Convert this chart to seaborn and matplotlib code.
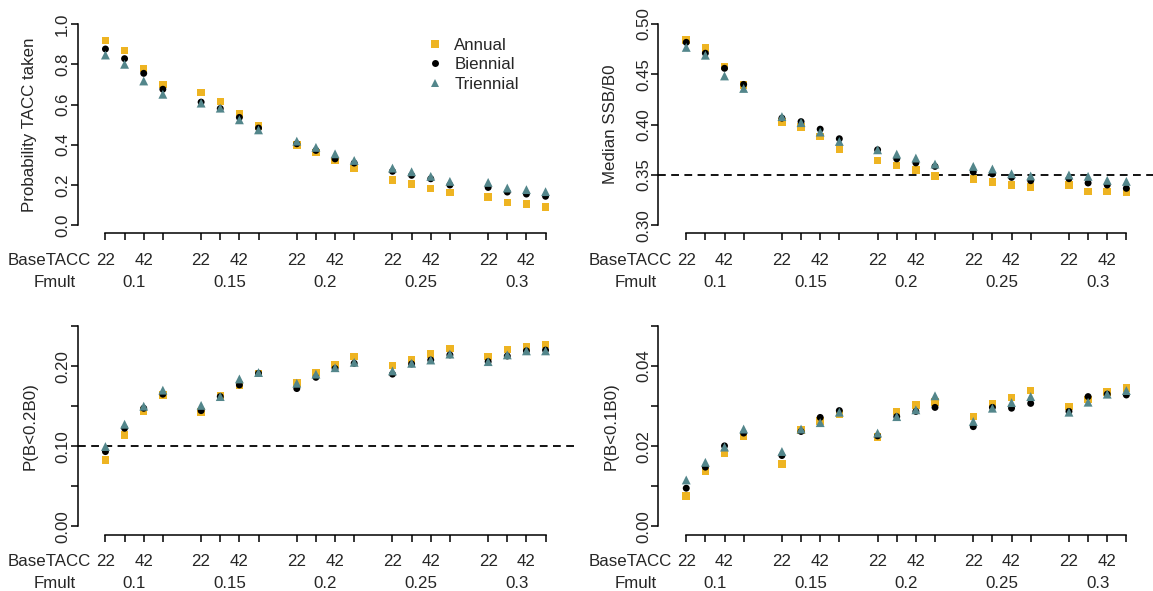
import numpy as np
import pandas as pd
import matplotlib
matplotlib.use("Agg")
import matplotlib.pyplot as plt
from matplotlib.lines import Line2D
import seaborn as sns

# ---------------- data ----------------
schemes = ["Annual", "Biennial", "Triennial"]
fmult = ["0.1", "0.15", "0.2", "0.25", "0.3"]
base_tacc = ["22", "32", "42", "52"]
base_tacc_shown = ["22", "", "42", ""]

ptacc_annual = [0.917, 0.868, 0.780, 0.700, 0.660, 0.615, 0.554, 0.494, 0.400, 0.362,
                0.322, 0.283, 0.225, 0.205, 0.183, 0.164, 0.140, 0.114, 0.106, 0.091]
ptacc_biennial = [0.876, 0.828, 0.755, 0.676, 0.612, 0.580, 0.536, 0.483, 0.405, 0.372,
                  0.330, 0.309, 0.268, 0.248, 0.231, 0.200, 0.188, 0.165, 0.155, 0.144]
ptacc_triennial = [0.846, 0.800, 0.717, 0.651, 0.607, 0.582, 0.524, 0.474, 0.418, 0.387,
                   0.355, 0.322, 0.284, 0.266, 0.243, 0.218, 0.213, 0.185, 0.177, 0.167]

ssb_annual = [0.4840, 0.4760, 0.4580, 0.4395, 0.4025, 0.3975, 0.3880, 0.3760, 0.3645, 0.3595,
              0.3550, 0.3490, 0.3460, 0.3430, 0.3400, 0.3380, 0.3400, 0.3337, 0.3337, 0.3330]
ssb_biennial = [0.4818, 0.4710, 0.4560, 0.4400, 0.4065, 0.4030, 0.3955, 0.3860, 0.3750, 0.3660,
                0.3620, 0.3585, 0.3530, 0.3510, 0.3476, 0.3443, 0.3463, 0.3420, 0.3400, 0.3367]
ssb_triennial = [0.4768, 0.4690, 0.4484, 0.4360, 0.4080, 0.4020, 0.3926, 0.3833, 0.3750, 0.3707,
                 0.3668, 0.3608, 0.3585, 0.3559, 0.3512, 0.3490, 0.3500, 0.3486, 0.3446, 0.3436]

p02_annual = [0.0826, 0.1140, 0.1440, 0.1640, 0.1430, 0.1630, 0.1765, 0.1910, 0.1790, 0.1920,
              0.2020, 0.2120, 0.2010, 0.2085, 0.2150, 0.2220, 0.2120, 0.2210, 0.2240, 0.2270]
p02_biennial = [0.0934, 0.1225, 0.1474, 0.1650, 0.1445, 0.1620, 0.1765, 0.1910, 0.1720, 0.1860,
                0.1970, 0.2035, 0.1900, 0.2027, 0.2076, 0.2140, 0.2056, 0.2126, 0.2190, 0.2200]
p02_triennial = [0.0997, 0.1275, 0.1500, 0.1700, 0.1510, 0.1620, 0.1840, 0.1920, 0.1786, 0.1900,
                 0.1980, 0.2047, 0.1940, 0.2035, 0.2076, 0.2150, 0.2056, 0.2140, 0.2190, 0.2190]

p01_annual = [0.00764, 0.0137, 0.01827, 0.0224, 0.0156, 0.0241, 0.0263, 0.0281, 0.0223, 0.0287,
              0.0303, 0.0311, 0.0274, 0.0306, 0.0322, 0.0339, 0.0299, 0.0317, 0.0336, 0.0345]
p01_biennial = [0.00955, 0.0148, 0.0201, 0.0233, 0.0177, 0.0237, 0.0272, 0.0289, 0.0226, 0.0274,
                0.0287, 0.0297, 0.0249, 0.0297, 0.0295, 0.0307, 0.0287, 0.0324, 0.0330, 0.0328]
p01_triennial = [0.0116, 0.0160, 0.0198, 0.0243, 0.0187, 0.0243, 0.0259, 0.0285, 0.0233, 0.0274,
                 0.0291, 0.0326, 0.0262, 0.0295, 0.0309, 0.0324, 0.0285, 0.0310, 0.0330, 0.0339]

# ---------------- style ----------------
sns.set_style("white")
plt.rcParams["font.family"] = ["Liberation Sans", "DejaVu Sans"]
FS = 12.2
plt.rcParams["font.size"] = FS

colors = {"Annual": "#EEB422", "Biennial": "#000000", "Triennial": "#53868B"}
markers = {"Annual": "s", "Biennial": "o", "Triennial": "^"}
msize = {"Annual": 5.4, "Biennial": 5.0, "Triennial": 6.4}
sizes = {k: v ** 2 for k, v in msize.items()}

W, H = 1153, 591
fig = plt.figure(figsize=(W / 100, H / 100), dpi=100)

# positions of the 20 treatment combinations (gap between Fmult groups)
positions = np.array([g * 5 + i for g in range(len(fmult)) for i in range(len(base_tacc))], dtype=float)
group_centers = [g * 5 + 1.5 for g in range(len(fmult))]
tick_labels = [base_tacc_shown[i] for g in range(len(fmult)) for i in range(len(base_tacc))]

AXLW = 1.1
PX = 72 / 100  # points per pixel


def make_df(a, b, c):
    rows = []
    for name, vals in zip(schemes, [a, b, c]):
        for p, v in zip(positions, vals):
            rows.append({"pos": p, "value": v, "scheme": name})
    return pd.DataFrame(rows)


def panel(left, top, w, h, vals, ylim, yticks, ylabels, ylabel, hline=None, legend=False):
    ax = fig.add_axes([left / W, 1 - (top + h) / H, w / W, h / H])
    df = make_df(*vals)
    sns.scatterplot(data=df, x="pos", y="value", hue="scheme", style="scheme", size="scheme",
                    palette=colors, markers=markers, sizes=sizes, linewidth=0,
                    legend=False, ax=ax, clip_on=False)
    if hline is not None:
        ax.axhline(hline, color="black", lw=1.3, ls=(0, (5.6 / 1.3, 3.9 / 1.3)), zorder=0)
    ax.set_xlim(-1.46, 24.46)
    ax.set_ylim(*ylim)
    for s in ["top", "right"]:
        ax.spines[s].set_visible(False)
    ax.spines["left"].set_bounds(yticks[0], yticks[-1])
    ax.spines["bottom"].set_bounds(positions[0], positions[-1])
    for s in ["left", "bottom"]:
        ax.spines[s].set_linewidth(AXLW)
        ax.spines[s].set_color("black")
    ax.set_xticks(positions, [""] * len(positions))
    ax.set_yticks(yticks, ylabels)
    ax.tick_params(axis="both", direction="out", length=5.0, width=AXLW, color="black",
                   left=True, bottom=True)
    ax.tick_params(axis="y", pad=0.3, labelsize=FS)
    for lab in ax.get_yticklabels():
        lab.set_rotation(90)
        lab.set_va("center")
    ax.set_xlabel("")
    ax.set_ylabel(ylabel, fontsize=FS, va="center")
    ax.yaxis.set_label_coords(-47.5 / w, 0.5)
    # x tick label rows
    xform = ax.get_xaxis_transform()
    row1 = -31.9 * PX
    row2 = -54.0 * PX
    for p, t in zip(positions, tick_labels):
        if t:
            ax.annotate(t, xy=(p, 0), xycoords=xform, xytext=(0, row1), textcoords="offset points",
                        ha="center", va="baseline", fontsize=FS, annotation_clip=False)
    for c, t in zip(group_centers, fmult):
        ax.annotate(t, xy=(c, 0), xycoords=xform, xytext=(0, row2), textcoords="offset points",
                    ha="center", va="baseline", fontsize=FS, annotation_clip=False)
    ax.annotate("BaseTACC", xy=(-2.92, 0), xycoords=xform, xytext=(0, row1), textcoords="offset points",
                ha="center", va="baseline", fontsize=FS, annotation_clip=False)
    ax.annotate("Fmult", xy=(-2.65, 0), xycoords=xform, xytext=(0, row2), textcoords="offset points",
                ha="center", va="baseline", fontsize=FS, annotation_clip=False)
    if legend:
        handles = [Line2D([0], [0], marker=markers[k], color=colors[k], markersize=msize[k],
                          linestyle="none", markeredgewidth=0) for k in schemes]
        ax.legend(handles, schemes, loc="upper left",
                  bbox_to_anchor=((427.9 - left) / w, 1 - (37.5 - top) / h),
                  frameon=False, handlelength=0.8, handletextpad=0.75, labelspacing=0.28,
                  borderaxespad=0, borderpad=0, fontsize=FS)
    return ax


panel(77.5, 16, 496, 217.3, (ptacc_annual, ptacc_biennial, ptacc_triennial),
      (-0.04, 1.04), [0, 0.2, 0.4, 0.6, 0.8, 1.0], ["0.0", "0.2", "0.4", "0.6", "0.8", "1.0"],
      "Probability TACC taken", legend=True)
panel(658.3, 16, 496, 217.3, (ssb_annual, ssb_biennial, ssb_triennial),
      (0.292, 0.508), [0.30, 0.35, 0.40, 0.45, 0.50], ["0.30", "0.35", "0.40", "0.45", "0.50"],
      "Median SSB/B0", hline=0.35)
panel(77.5, 318, 496, 216.5, (p02_annual, p02_biennial, p02_triennial),
      (-0.01, 0.26), [0, 0.05, 0.10, 0.15, 0.20, 0.25], ["0.00", "", "0.10", "", "0.20", ""],
      "P(B<0.2B0)", hline=0.10)
panel(658.3, 318, 496, 216.5, (p01_annual, p01_biennial, p01_triennial),
      (-0.002, 0.052), [0, 0.01, 0.02, 0.03, 0.04, 0.05], ["0.00", "", "0.02", "", "0.04", ""],
      "P(B<0.1B0)")

fig.savefig("out.png", dpi=100)
